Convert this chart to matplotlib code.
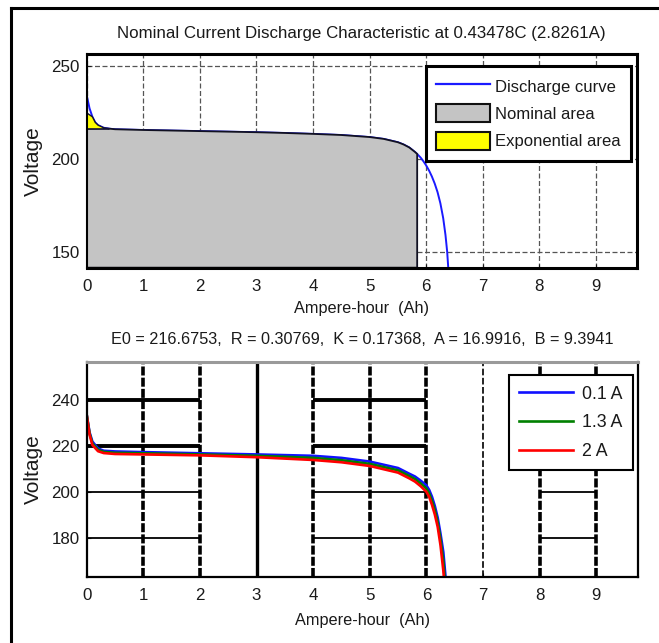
import matplotlib
matplotlib.use("Agg")
import matplotlib.pyplot as plt
import matplotlib.patches as mpatches
from matplotlib.lines import Line2D
import numpy as np

plt.rcParams['font.family'] = ['Liberation Sans', 'DejaVu Sans']
plt.rcParams['font.size'] = 11

# Nominal discharge curve (top panel)
ah_nom = [0, 0.05, 0.1, 0.15, 0.2, 0.3, 0.4, 0.5, 0.75, 1, 1.5, 2, 2.5, 3,
          3.5, 4, 4.5, 5, 5.25, 5.5, 5.6, 5.7, 5.8, 5.84, 5.9, 5.95, 6.0,
          6.05, 6.1, 6.15, 6.2, 6.25, 6.3, 6.34, 6.37, 6.39]
v_nom = [234, 227, 222.5, 219.5, 218, 216.6, 216.1, 215.8, 215.6, 215.4, 215.1,
         214.8, 214.5, 214.2, 213.8, 213.3, 212.7, 211.6, 210.6, 208.8, 207.6,
         206, 203.6, 202.5, 200.6, 198.6, 196.3, 193.6, 190.4, 186.6, 182,
         176, 168, 159, 150, 141]

# Exponential zone polygon
ah_exp = [0, 0, 0.1, 0.15, 0.2, 0.3, 0.4, 0.4]
v_exp = [216, 224.6, 222.5, 219.5, 218, 216.6, 216.1, 216]

# Nominal zone limits
q_exp = 0.4
q_nom = 5.84

# Discharge at several currents (bottom panel)
ah_cur = [0, 0.05, 0.1, 0.2, 0.3, 0.5, 1, 2, 3, 4, 4.5, 5, 5.5, 5.7, 5.8,
          5.9, 6.0, 6.05, 6.1, 6.15, 6.2, 6.25, 6.3, 6.34, 6.38]
v_01 = [233.5, 226, 222, 219, 218, 217.7, 217.4, 216.9, 216.4, 215.8, 214.9,
        213.3, 210.5, 208, 206.8, 205, 203, 201, 198, 194, 189, 182, 174, 163, 148]
v_13 = [233.5, 225.5, 221.2, 218.4, 217.5, 217.1, 216.9, 216.4, 215.8, 214.9,
        213.9, 212.3, 209.5, 207, 205.7, 203.8, 201.6, 199.5, 196.2, 192.2, 187,
        179.5, 170, 158, 142]
v_2 = [233.5, 225, 220.5, 217.8, 217, 216.6, 216.4, 216.0, 215.2, 214.0,
       213.0, 211.4, 208.5, 206, 204.6, 202.6, 200.2, 198, 194.5, 190.3, 185,
       177, 166, 154, 138]
currents = ['0.1 A', '1.3 A', '2 A']
cur_colors = ['#1010ff', '#008000', '#ff0000']

title_top = 'Nominal Current Discharge Characteristic at 0.43478C (2.8261A)'
title_bot = 'E0 = 216.6753,  R = 0.30769,  K = 0.17368,  A = 16.9916,  B = 9.3941'
txt = '#1a1a1a'

fig = plt.figure(figsize=(6.59, 6.43), dpi=100)

# outer frame (left and top only)
fig.add_artist(Line2D([11 / 659, 11 / 659], [0, 1 - 8 / 643], color='black', lw=2.2))
fig.add_artist(Line2D([11 / 659, 1], [1 - 8 / 643, 1 - 8 / 643], color='black', lw=2.2))

# ---------- top panel ----------
ax1 = fig.add_axes([0.1316, 0.5837, 0.8346, 0.3319])
ylo1, yhi1 = 141.4, 256.1
ax1.set_xlim(0, 9.72)
ax1.set_ylim(ylo1, yhi1)

ax1.plot(ah_nom, v_nom, color='#1a1aff', lw=1.4, zorder=3)

ah_arr = np.array(ah_nom)
v_arr = np.array(v_nom)
mask = (ah_arr >= q_exp) & (ah_arr <= q_nom)
poly_x = [0, 0] + list(ah_arr[mask]) + [q_nom]
poly_y = [ylo1, v_exp[-1]] + list(v_arr[mask]) + [ylo1]
ax1.add_patch(mpatches.Polygon(np.column_stack([poly_x, poly_y]), closed=True,
                               facecolor='#c4c4c4', edgecolor='#111122',
                               lw=1.3, zorder=4))
ax1.add_patch(mpatches.Polygon(np.column_stack([ah_exp, v_exp]), closed=True,
                               facecolor='#ffff00', edgecolor='#111133',
                               lw=1.0, zorder=4))

ax1.set_xticks(range(0, 10))
ax1.set_yticks([150, 200, 250])
ax1.grid(True, linestyle=(0, (4, 2)), color='#555555', lw=0.9, zorder=1)
ax1.set_axisbelow(True)
for s in ax1.spines.values():
    s.set_linewidth(2.2)
    s.set_zorder(6)
ax1.spines['left'].set_linewidth(1.5)
ax1.tick_params(direction='in', length=3, colors=txt, labelsize=12.2, pad=5)
ax1.tick_params(axis='x', pad=8)
ax1.set_title(title_top, fontsize=12.2, color=txt, pad=12)
ax1.set_xlabel('Ampere-hour  (Ah)', fontsize=11.7, color=txt, labelpad=5)
ax1.set_ylabel('Voltage', fontsize=15, color=txt, labelpad=6)

handles1 = [Line2D([], [], color='#1a1aff', lw=1.6),
            mpatches.Patch(facecolor='#c4c4c4', edgecolor='#111111', lw=1.5),
            mpatches.Patch(facecolor='#ffff00', edgecolor='#111111', lw=1.5)]
leg1 = ax1.legend(handles1, ['Discharge curve', 'Nominal area', 'Exponential area'],
                  loc='upper right', bbox_to_anchor=(0.99, 0.945), fontsize=12,
                  frameon=True, fancybox=False, framealpha=1, edgecolor='black',
                  handlelength=3.2, handleheight=1.3, labelspacing=0.55,
                  handletextpad=0.3, borderpad=0.65, borderaxespad=0)
leg1.get_frame().set_linewidth(2.2)
leg1.set_zorder(7)
for t in leg1.get_texts():
    t.set_color(txt)

# ---------- bottom panel ----------
ax2 = fig.add_axes([0.1316, 0.1031, 0.837, 0.3334])
ax2.set_xlim(0, 9.745)
ax2.set_ylim(163.3, 256.4)

for v, c, lab in zip([v_01, v_13, v_2], cur_colors, currents):
    ax2.plot(ah_cur, v, color=c, lw=1.9, label=lab, zorder=4)

# grid drawn in pieces
grid_spans = [(0, 2), (4, 6), (8, 9)]
for y, w in [(180, 1.3), (200, 1.3), (220, 2.8), (240, 2.8)]:
    for a, b in grid_spans:
        ax2.hlines(y, a, b, color='black', lw=w, zorder=2)
for x in range(1, 10):
    if x == 3:
        ax2.axvline(x, color='black', lw=2.4, zorder=2)
    elif x == 7:
        ax2.axvline(x, color='black', lw=1.2, ls=(0, (4, 1.5)), zorder=2)
    else:
        ax2.axvline(x, color='black', lw=2.6, ls=(0, (2.5, 0.6)), zorder=2)

ax2.set_xticks(range(0, 10))
ax2.set_yticks([180, 200, 220, 240])
for s in ax2.spines.values():
    s.set_linewidth(1.6)
    s.set_zorder(6)
ax2.spines['top'].set_color('#9a9a9a')
ax2.spines['top'].set_linewidth(2.2)
ax2.tick_params(direction='in', length=3, colors=txt, labelsize=12.2, pad=5)
ax2.tick_params(axis='x', pad=8)
ax2.set_title(title_bot, fontsize=11.7, color=txt, pad=13)
ax2.set_xlabel('Ampere-hour  (Ah)', fontsize=11.7, color=txt, labelpad=7)
ax2.set_ylabel('Voltage', fontsize=15, color=txt, labelpad=6)

leg2 = ax2.legend(loc='upper right', bbox_to_anchor=(0.99, 0.941), fontsize=12.8,
                  frameon=True, fancybox=False, framealpha=1, edgecolor='black',
                  handlelength=3.0, labelspacing=0.65, handletextpad=0.5,
                  borderpad=0.6, borderaxespad=0)
leg2.get_frame().set_linewidth(1.5)
leg2.set_zorder(7)
for t in leg2.get_texts():
    t.set_color(txt)

fig.savefig('out.png', dpi=100)
